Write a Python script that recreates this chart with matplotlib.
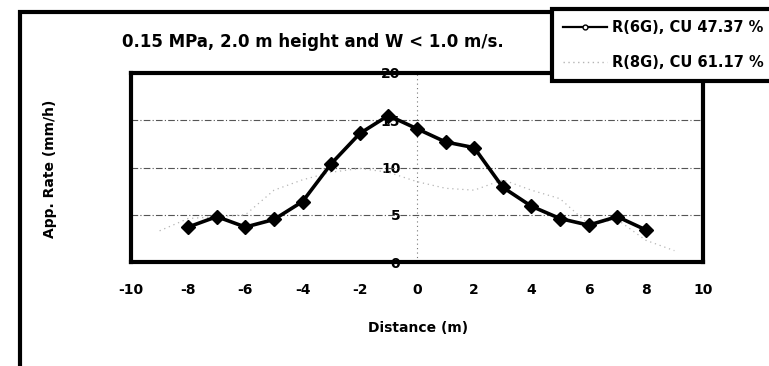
import matplotlib
matplotlib.use("Agg")
import matplotlib.pyplot as plt
from matplotlib.lines import Line2D
from matplotlib.patches import Rectangle

plt.rcParams['font.family'] = ['DejaVu Sans']
plt.rcParams['font.weight'] = 'bold'

# Data
dist_6g = [-8, -7, -6, -5, -4, -3, -2, -1, 0, 1, 2, 3, 4, 5, 6, 7, 8]
rate_6g = [3.7, 4.8, 3.7, 4.5, 6.4, 10.4, 13.6, 15.5, 14.1, 12.7, 12.1, 7.9, 5.9, 4.6, 3.9, 4.8, 3.4]
dist_8g = [-9, -8, -7, -6, -5, -4, -3, -2, -1, 0, 1, 2, 3, 4, 5, 6, 7, 8, 9]
rate_8g = [3.3, 4.6, 4.8, 5.0, 7.6, 8.7, 9.5, 9.9, 9.5, 8.5, 7.8, 7.6, 8.7, 7.6, 6.7, 4.0, 4.5, 2.3, 1.2]
x_ticks = [-10, -8, -6, -4, -2, 0, 2, 4, 6, 8, 10]
y_ticks = [0, 5, 10, 15, 20]
grid_levels = [5, 10, 15]

title = "0.15 MPa, 2.0 m height and W < 1.0 m/s."
label_6g = "R(6G), CU 47.37 %"
label_8g = "R(8G), CU 61.17 %"

W, H = 769, 366
fig = plt.figure(figsize=(W / 100, H / 100), dpi=100)
fig.patch.set_facecolor('white')
ax = fig.add_axes([131 / W, 1 - 262 / H, (703 - 131) / W, (262 - 73) / H])

# gridlines (dash-dot) and the y axis line at x = 0
for g in grid_levels:
    ax.axhline(g, color='#555555', lw=0.8, ls=(0, (6, 2, 1, 2)), zorder=1)
ax.axvline(0, color='#777777', lw=0.8, ls=(0, (1, 3)), zorder=1)

ax.plot(dist_8g, rate_8g, color='#b5b5b5', lw=0.9, ls=(0, (1, 3)), zorder=2)
ax.plot(dist_6g, rate_6g, color='black', lw=2.6, marker='D', ms=7,
        mfc='black', mec='black', zorder=3)

ax.set_xlim(-10, 10)
ax.set_ylim(0, 20)
ax.set_xticks(x_ticks)
ax.set_xticklabels([str(t) for t in x_ticks], fontsize=10, fontweight='bold')
ax.tick_params(axis='x', length=0, pad=15)
ax.set_yticks([])
for s in ax.spines.values():
    s.set_linewidth(3)

# y tick labels sit just left of the x = 0 line
sec = ax.secondary_yaxis(0.5)
sec.set_alignment('left')
sec.set_yticks(y_ticks)
sec.set_yticklabels([str(t) for t in y_ticks], fontsize=10, fontweight='bold')
sec.tick_params(length=0, pad=12)
for s in sec.spines.values():
    s.set_visible(False)

fig.text(418 / W, 1 - 328 / H, "Distance (m)", ha='center', va='center',
         fontsize=10, fontweight='bold')
fig.text(50 / W, 1 - 169 / H, "App. Rate (mm/h)", ha='center', va='center',
         rotation=90, fontsize=10, fontweight='bold')
fig.text(313 / W, 1 - 42 / H, title, ha='center', va='center',
         fontsize=12, fontweight='bold')

# outer frame around the chart area (top and left edges visible)
fig.patches.append(Rectangle((20 / W, -0.2), 1.2, 1 - 12 / H + 0.2,
                             transform=fig.transFigure, fill=False,
                             lw=3, ec='black', zorder=0))

handles = [Line2D([], [], color='black', lw=1.6, marker='o', ms=3.5,
                  mfc='white', mec='black'),
           Line2D([], [], color='#b5b5b5', lw=1.0, ls=(0, (1, 2.5)))]
leg = fig.legend(handles, [label_6g, label_8g], loc='upper left',
                 bbox_to_anchor=(552 / W, 1 - 9 / H), bbox_transform=fig.transFigure,
                 fontsize=10.5, frameon=True, fancybox=False, framealpha=1,
                 handlelength=3.0, handletextpad=0.35, labelspacing=1.4,
                 borderpad=0.75, borderaxespad=0)
leg.get_frame().set_linewidth(3)
leg.get_frame().set_edgecolor('black')
leg.set_zorder(5)
for t in leg.get_texts():
    t.set_fontweight('bold')

fig.savefig("out.png", dpi=100, facecolor='white')
